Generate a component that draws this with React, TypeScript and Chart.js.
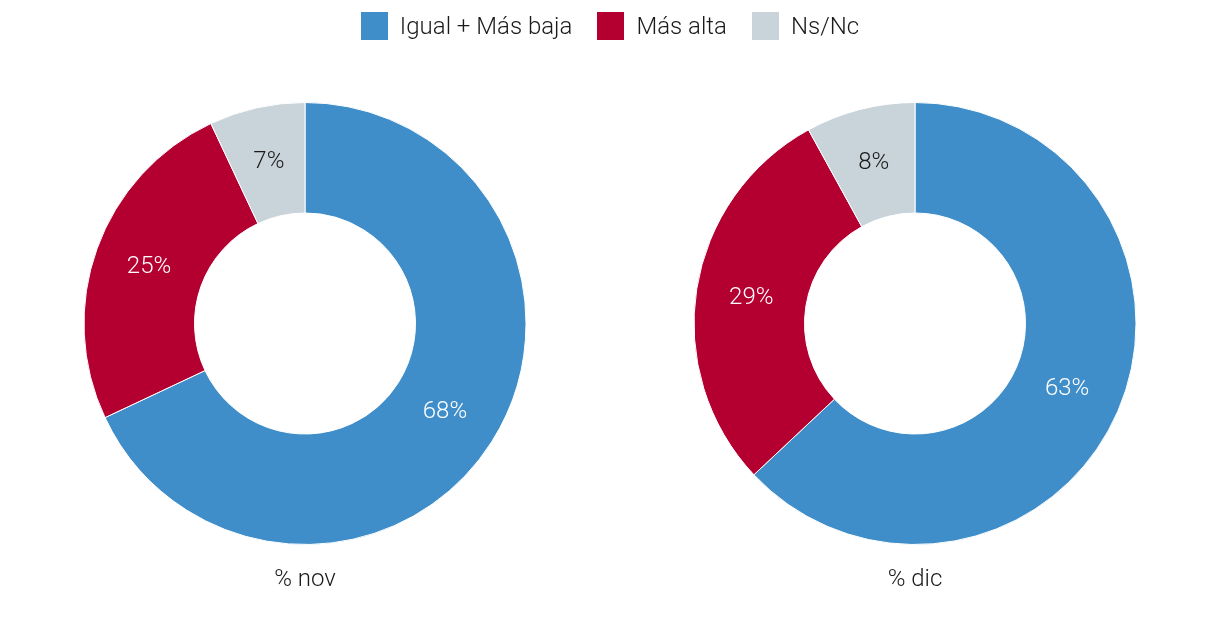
import React, { useEffect, useRef } from "react";
import { Chart, registerables } from "chart.js";

Chart.register(...registerables);

const categories = ["Igual + Más baja", "Más alta", "Ns/Nc"];
const colors = ["#3f8ec9", "#b40030", "#c8d3da"];
const labelColors = ["#ffffff", "#ffffff", "#1a1a1a"];
const novValues = [68, 25, 7];
const dicValues = [63, 29, 8];
const titles = ["% nov", "% dic"];

const FONT = "Roboto, 'Noto Sans', sans-serif";

function Donut({ values, title }: { values: number[]; title: string }) {
  const ref = useRef<HTMLCanvasElement | null>(null);
  useEffect(() => {
    if (!ref.current) return;
    const labelPlugin = {
      id: "labels",
      afterDatasetsDraw(chart: any) {
        const ctx = chart.ctx;
        const meta = chart.getDatasetMeta(0);
        ctx.save();
        ctx.font = `300 24px ${FONT}`;
        ctx.textAlign = "center";
        ctx.textBaseline = "middle";
        meta.data.forEach((arc: any, i: number) => {
          const p = arc.getCenterPoint();
          ctx.fillStyle = labelColors[i];
          ctx.fillText(values[i] + "%", p.x, p.y);
        });
        ctx.font = `300 24px ${FONT}`;
        ctx.fillStyle = "#1a1a1a";
        ctx.fillText(title, chart.width / 2, 580);
        ctx.restore();
      },
    };
    const chart = new Chart(ref.current, {
      type: "doughnut",
      data: {
        labels: categories,
        datasets: [
          {
            data: values,
            backgroundColor: colors,
            borderColor: "#ffffff",
            borderWidth: 1,
            hoverOffset: 0,
          },
        ],
      },
      options: {
        animation: false,
        responsive: false,
        cutout: "50%",
        layout: { padding: { top: 102, bottom: 81, left: 0, right: 0 } },
        plugins: {
          legend: { display: false },
          tooltip: { enabled: false },
          title: { display: false },
        },
      },
      plugins: [labelPlugin],
    });
    return () => chart.destroy();
  }, [values, title]);
  return <canvas ref={ref} width={610} height={626} style={{ display: "block", width: 610, height: 626 }} />;
}

export default function App() {
  return (
    <div style={{ position: "fixed", left: 0, top: 0, width: 1220, height: 626, background: "#fff", fontFamily: FONT }}>
      <div style={{ position: "absolute", left: 0, top: 0, width: 1220, height: 626, display: "flex" }}>
        <Donut values={novValues} title={titles[0]} />
        <Donut values={dicValues} title={titles[1]} />
      </div>
      <div
        style={{
          position: "absolute",
          left: 0,
          top: 12,
          width: 1220,
          display: "flex",
          justifyContent: "center",
          alignItems: "center",
          height: 28,
        }}
      >
        {categories.map((c, i) => (
          <div key={c} style={{ display: "flex", alignItems: "center", marginLeft: i === 0 ? 0 : 25 }}>
            <div style={{ width: 27, height: 28, background: colors[i], marginRight: 12 }} />
            <span style={{ fontSize: 24, fontWeight: 300, color: "#1a1a1a", lineHeight: "28px" }}>{c}</span>
          </div>
        ))}
      </div>
    </div>
  );
}
